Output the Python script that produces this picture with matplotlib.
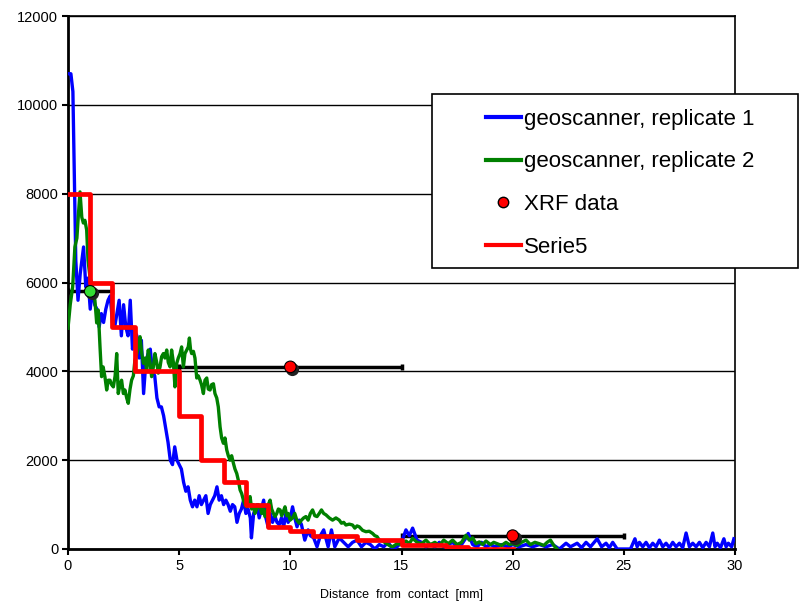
import numpy as np
import matplotlib
matplotlib.use("Agg")
import matplotlib.pyplot as plt
from matplotlib.lines import Line2D
from matplotlib.patches import Rectangle
import matplotlib.transforms as mtransforms

plt.rcParams['font.family'] = ['Liberation Sans', 'DejaVu Sans']

# geoscanner, replicate 1
blue_x = [0.05, 0.13, 0.22, 0.28, 0.35, 0.45, 0.55, 0.7, 0.8, 0.9, 1.0, 1.1, 1.2, 1.3, 1.4, 1.5,
          1.6, 1.7, 1.8, 1.9, 2.0, 2.1, 2.2, 2.3, 2.4, 2.5, 2.6, 2.7, 2.8, 2.9, 3.0, 3.1, 3.2, 3.3,
          3.4, 3.5, 3.6, 3.7, 3.8, 3.9, 4.0, 4.1, 4.2, 4.3, 4.4, 4.5, 4.6, 4.7, 4.8, 4.9, 5.0, 5.1,
          5.2, 5.3, 5.4, 5.5, 5.6, 5.7, 5.8, 5.9, 6.0, 6.1, 6.2, 6.3, 6.4, 6.5, 6.6, 6.7, 6.8, 6.9,
          7.0, 7.1, 7.2, 7.3, 7.4, 7.5, 7.6, 7.7, 7.8, 7.9, 8.0, 8.1, 8.2, 8.25, 8.35, 8.5, 8.6, 8.7,
          8.8, 8.9, 9.0, 9.1, 9.2, 9.3, 9.4, 9.5, 9.6, 9.7, 9.8, 9.9, 10.0, 10.1, 10.2, 10.3, 10.4,
          10.5, 10.65, 10.8, 10.9, 11.05, 11.2, 11.35, 11.5, 11.7, 11.85, 12.0, 12.2, 12.4, 12.6,
          12.8, 13.0, 13.2, 13.4, 13.6, 13.8, 14.0, 14.2, 14.4, 14.6, 14.8, 15.0, 15.2, 15.35, 15.5,
          15.7, 15.9, 16.1, 16.3, 16.5, 16.7, 16.9, 17.1, 17.3, 17.5, 17.7, 17.9, 18.0, 18.2, 18.4,
          18.6, 18.8, 19.0, 19.2, 19.5, 19.8, 20.0, 20.3, 20.6, 20.9, 21.2, 21.5, 21.8, 22.1, 22.4,
          22.6, 22.9, 23.1, 23.3, 23.5, 23.8, 24.0, 24.2, 24.35, 24.5, 24.7, 25.0, 25.3, 25.5, 25.6,
          25.7, 25.85, 26.0, 26.15, 26.3, 26.45, 26.6, 26.75, 26.9, 27.05, 27.2, 27.35, 27.5, 27.65,
          27.8, 27.95, 28.1, 28.25, 28.4, 28.55, 28.7, 28.85, 29.0, 29.1, 29.2, 29.35, 29.5, 29.6,
          29.7, 29.85, 29.95]
blue_y = [10700, 10700, 10300, 8500, 6500, 5600, 6200, 6800, 5900, 6100, 5400, 5900, 5500, 5400,
          5000, 5300, 5100, 5400, 5600, 5700, 5100, 5000, 5300, 5600, 4800, 5500, 5000, 4800, 5600,
          4500, 4900, 4800, 4300, 4700, 3500, 4200, 4400, 4500, 4000, 3900, 3400, 3200, 3200, 3000,
          2700, 2400, 2000, 1900, 2300, 2000, 1900, 1800, 1500, 1300, 1400, 1100, 950, 1100, 950,
          1200, 1000, 1100, 1200, 800, 1000, 1100, 1200, 1400, 1100, 1200, 1000, 1100, 1000, 850,
          1000, 950, 600, 800, 900, 1100, 800, 900, 700, 250, 800, 1000, 700, 900, 1100, 700, 500,
          800, 600, 750, 600, 550, 700, 500, 800, 600, 700, 950, 700, 500, 650, 550, 200, 430, 300,
          250, 50, 300, 430, 50, 430, 50, 250, 150, 50, 150, 200, 50, 150, 100, 0, 100, 50, 150, 0,
          50, 150, 430, 300, 470, 200, 150, 50, 100, 50, 150, 50, 100, 150, 50, 100, 250, 350, 100,
          50, 150, 50, 100, 50, 100, 50, 100, 50, 100, 50, 100, 50, 100, 0, 130, 50, 130, 30, 150,
          50, 230, 50, 130, 30, 150, 0, 0, 0, 230, 50, 150, 50, 150, 30, 130, 50, 200, 50, 130, 30,
          150, 50, 130, 30, 360, 50, 130, 50, 150, 30, 150, 50, 360, 50, 130, 30, 230, 50, 130, 50,
          230]

# geoscanner, replicate 2
green_x = [0.0, 0.1, 0.21, 0.31, 0.4, 0.46, 0.54, 0.62, 0.69, 0.76, 0.84, 0.9, 0.99, 1.05, 1.12,
           1.21, 1.29, 1.36, 1.44, 1.51, 1.58, 1.66, 1.74, 1.81, 1.89, 1.96, 2.04, 2.12, 2.19, 2.26,
           2.34, 2.41, 2.49, 2.56, 2.64, 2.71, 2.79, 2.86, 2.94, 3.01, 3.1, 3.17, 3.24, 3.32, 3.39,
           3.47, 3.54, 3.61, 3.69, 3.76, 3.84, 3.91, 3.99, 4.06, 4.14, 4.21, 4.29, 4.36, 4.44, 4.51,
           4.59, 4.66, 4.74, 4.81, 4.89, 4.96, 5.04, 5.11, 5.19, 5.26, 5.34, 5.41, 5.46, 5.51, 5.56,
           5.64, 5.71, 5.79, 5.86, 5.94, 6.01, 6.09, 6.16, 6.24, 6.31, 6.39, 6.46, 6.54, 6.61, 6.69,
           6.76, 6.84, 6.91, 6.99, 7.06, 7.14, 7.21, 7.29, 7.36, 7.44, 7.51, 7.59, 7.66, 7.74, 7.81,
           7.89, 7.96, 8.04, 8.11, 8.19, 8.26, 8.34, 8.41, 8.49, 8.56, 8.64, 8.71, 8.79, 8.86, 8.94,
           9.01, 9.09, 9.16, 9.24, 9.31, 9.39, 9.46, 9.54, 9.61, 9.69, 9.76, 9.84, 9.91, 9.99, 10.1,
           10.2, 10.29, 10.4, 10.5, 10.6, 10.7, 10.8, 10.9, 11.0, 11.1, 11.2, 11.3, 11.4, 11.5, 11.6,
           11.75, 11.9, 12.05, 12.2, 12.3, 12.4, 12.5, 12.65, 12.8, 12.9, 13.0, 13.1, 13.25, 13.4,
           13.55, 13.7, 13.8, 13.9, 14.0, 14.15, 14.3, 14.45, 14.6, 14.8, 15.0, 15.2, 15.35, 15.5,
           15.7, 15.9, 16.1, 16.3, 16.5, 16.7, 16.9, 17.1, 17.3, 17.5, 17.7, 17.9, 18.05, 18.2,
           18.35, 18.5, 18.65, 18.8, 19.0, 19.15, 19.3, 19.5, 19.7, 19.85, 20.0, 20.2, 20.4, 20.6,
           20.8, 21.0, 21.2, 21.4, 21.55, 21.7, 21.85, 22.0]
green_y = [4970, 5500, 5900, 6800, 7000, 7470, 8040, 7470, 7340, 7400, 7180, 6500, 6120, 6000, 5760,
           5600, 5090, 5380, 4550, 3880, 4100, 3880, 3580, 3800, 3800, 3700, 3650, 3900, 4400, 3500,
           3700, 3800, 3500, 3580, 3400, 3280, 3600, 3800, 3900, 4250, 4400, 4600, 4780, 4400, 4180,
           4300, 4000, 4480, 4200, 3880, 4100, 4400, 4200, 3960, 4100, 4330, 4400, 4300, 4480, 4200,
           4100, 4480, 4200, 3650, 4180, 4300, 4400, 4550, 4100, 4400, 4480, 4550, 4750, 4500, 4400,
           4450, 4300, 3850, 3900, 3800, 3690, 3500, 3800, 3850, 3600, 3580, 3700, 3720, 3500, 3400,
           3200, 2750, 2500, 2380, 2500, 2230, 2100, 2000, 2100, 1930, 1800, 1700, 1550, 1330, 1250,
           1100, 1000, 950, 1050, 1180, 900, 1000, 800, 900, 1000, 950, 800, 900, 730, 850,
           1000, 1100, 900, 800, 730, 800, 900, 880, 750, 850, 950, 750, 800, 650, 700,
           800, 650, 580, 650, 700, 730, 650, 800, 880, 750, 730, 800, 880, 800, 770,
           700, 650, 700, 650, 580, 600, 540, 560, 540, 470, 520, 500, 420, 390,
           400, 350, 300, 280, 200, 180, 130, 80, 50, 120, 100, 180, 120, 240,
           150, 120, 200, 100, 150, 80, 200, 120, 200, 100, 150, 310, 200, 250,
           120, 160, 100, 180, 100, 150, 120, 80, 150, 100, 120, 80, 150, 200,
           100, 150, 120, 80, 150, 200, 80, 0]

# XRF data with x ranges
xrf_x = [1, 10, 20]
xrf_y = [5800, 4100, 300]
xrf_err = [1, 5, 5]
xrf_colors = ['#33dd33', '#ff0000', '#ff0000']

# Serie5 step profile
step_x = [0, 1, 2, 3, 5, 6, 7, 8, 9, 10, 11, 13, 15, 17, 18, 20]
step_y = [8000, 6000, 5000, 4000, 3000, 2000, 1500, 1000, 500, 400, 300, 200, 80, 40, 0, 0]

fig = plt.figure(figsize=(8, 6.05), dpi=100)
ax = fig.add_axes([68 / 800, 1 - 549 / 605, 667 / 800, 533 / 605])

ax.set_xlim(0, 30)
ax.set_ylim(0, 12000)
ax.set_yticks(np.arange(0, 12001, 2000))
ax.set_xticks(np.arange(0, 31, 5))
ax.yaxis.grid(True, color='black', linewidth=1.0)
ax.set_axisbelow(True)

ax.errorbar(xrf_x, xrf_y, xerr=xrf_err, fmt='none', ecolor='black', elinewidth=2.5,
            capsize=2.5, capthick=2.5, zorder=2)
ax.plot(blue_x, blue_y, color='#0000ff', linewidth=2.4, zorder=3)
ax.plot(green_x, green_y, color='#008000', linewidth=2.4, zorder=4)
ax.step(step_x, step_y, where='post', color='#ff0000', linewidth=3.4, zorder=5)

# little shadow behind the XRF markers
shadow = mtransforms.offset_copy(ax.transData, fig=fig, x=2, y=-2, units='dots')
ax.scatter(xrf_x, xrf_y, s=90, color='#222222', transform=shadow, zorder=6, linewidths=0)
ax.scatter(xrf_x, xrf_y, s=70, c=xrf_colors, edgecolors='black', linewidths=0.8, zorder=7)

for side in ['left', 'bottom']:
    ax.spines[side].set_linewidth(2.0)
for side in ['top', 'right']:
    ax.spines[side].set_linewidth(1.2)
ax.tick_params(axis='both', direction='out', length=4, width=1.5, labelsize=10.5, pad=3)

ax.set_xlabel('Distance  from  contact  [mm]', fontsize=9, labelpad=12)

# legend with its own frame
fig.patches.append(Rectangle((432 / 800, 1 - 268 / 605), 366 / 800, 174 / 605,
                             transform=fig.transFigure, facecolor='white',
                             edgecolor='black', linewidth=1.2, zorder=10))
handles = [Line2D([], [], color='#0000ff', linewidth=3),
           Line2D([], [], color='#008000', linewidth=3),
           Line2D([], [], linestyle='none', marker='o', markersize=7.5,
                  markerfacecolor='#ff0000', markeredgecolor='black'),
           Line2D([], [], color='#ff0000', linewidth=3)]
labels = ['geoscanner, replicate 1', 'geoscanner, replicate 2', 'XRF data', 'Serie5']
leg = fig.legend(handles, labels, loc='upper left', bbox_to_anchor=(470 / 800, 1 - 93 / 605),
                 frameon=False, fontsize=16, handlelength=1.6, handletextpad=0.12,
                 labelspacing=0.98, borderpad=0.2)
leg.set_zorder(11)

fig.savefig('out.png', dpi=100)
